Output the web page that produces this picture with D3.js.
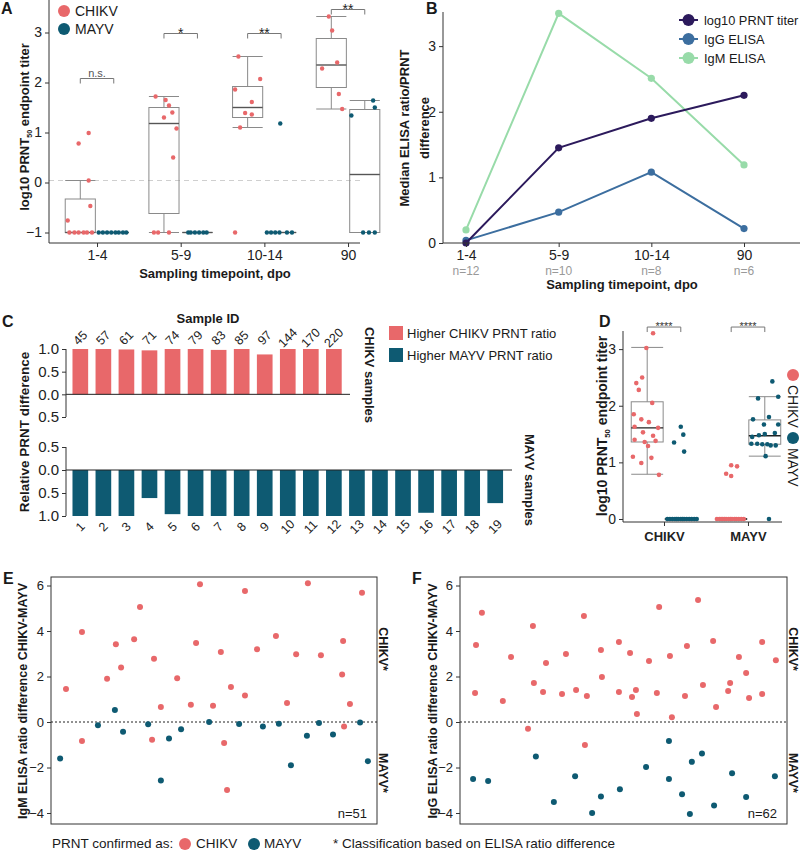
<!DOCTYPE html>
<html>
<head>
<meta charset="utf-8">
<script src="https://cdn.jsdelivr.net/npm/d3@7"></script>
<style>
body { margin: 0; background: white; }
svg { font-family: "Liberation Sans", Arial, Helvetica, sans-serif; }
</style>
</head>
<body>
<div id="canvas"></div>
<script>
"use strict"

/* ---------- data ---------- */

let timepoints = ["1-4", "5-9", "10-14", "90"];
let groupCounts = ["n=12", "n=10", "n=8", "n=6"];

// panel A boxes (log10 PRNT50 titer), one per timepoint
let aChikvBoxes = [
    { lo: -1, q1: -1, med: -1, q3: -0.33, hi: 0.04 },
    { lo: -1, q1: -0.62, med: 1.18, q3: 1.5, hi: 1.72 },
    { lo: 1.1, q1: 1.3, med: 1.5, q3: 1.92, hi: 2.52 },
    { lo: 1.47, q1: 1.9, med: 2.35, q3: 2.88, hi: 3.32 }
];
let aMayvBoxes = [
    { lo: -1, q1: -1, med: -1, q3: -1, hi: -1 },
    { lo: -1, q1: -1, med: -1, q3: -1, hi: -1 },
    { lo: -1, q1: -1, med: -1, q3: -1, hi: -1 },
    { lo: -1, q1: -1, med: 0.16, q3: 1.46, hi: 1.64 }
];
// [position in timepoint units, value]
let aChikvPoints = [
    [-0.35, -0.76], [-0.22, 0.78], [-0.10, 0.99], [-0.10, 0.04], [-0.08, -0.47],
    [-0.33, -1], [-0.27, -1], [-0.22, -1], [-0.16, -1], [-0.12, -1], [-0.06, -1],
    [0.70, 1.72], [0.82, 1.65], [0.86, 1.54], [0.90, 1.40], [0.80, 1.30], [0.95, 1.08], [0.91, 0.5],
    [0.68, -1], [0.73, -1], [0.86, -1],
    [1.69, 2.52], [1.95, 2.07], [1.65, 1.86], [1.85, 1.61], [1.77, 1.39], [1.85, 1.36], [1.71, 1.1], [1.65, -1],
    [2.77, 3.32], [2.81, 3.04], [2.87, 2.4], [2.69, 2.28], [2.89, 1.77], [2.93, 1.47]
];
let aMayvPoints = [
    [0.02, -1], [0.07, -1], [0.12, -1], [0.17, -1], [0.22, -1], [0.26, -1], [0.31, -1], [0.35, -1],
    [1.09, -1], [1.12, -1], [1.17, -1], [1.22, -1], [1.27, -1], [1.31, -1],
    [2.03, -1], [2.08, -1], [2.13, -1], [2.18, -1], [2.27, -1], [2.33, -1], [2.19, 1.18],
    [3.30, 1.64], [3.32, 1.5], [3.04, 1.34], [3.18, -1], [3.25, -1], [3.32, -1]
];
let aSignif = ["n.s.", "*", "**", "**"];
let aSignifLevel = [2.08, 2.98, 2.98, 3.46];
let aCutoff = 0.04;

// panel B medians
let bPrnt = [0, 1.45, 1.9, 2.25];
let bIgg = [0.04, 0.47, 1.08, 0.22];
let bIgm = [0.2, 3.5, 2.51, 1.19];
let bSeriesNames = ["log10 PRNT titer", "IgG ELISA", "IgM ELISA"];

// panel C relative PRNT difference
let cChikvIds = ["45", "57", "61", "71", "74", "79", "83", "85", "97", "144", "170", "220"];
let cChikvValues = [1, 1, 0.99, 0.97, 1, 1, 0.98, 1, 0.88, 1, 1, 1];
let cMayvIds = ["1", "2", "3", "4", "5", "6", "7", "8", "9", "10", "11", "12", "13", "14", "15", "16", "17", "18", "19"];
let cMayvValues = [1, 1, 1, 0.61, 0.96, 1, 1, 1, 1, 1, 1, 1, 1, 1, 1, 0.93, 1, 1, 0.72];

// panel D
let dGroups = ["CHIKV", "MAYV"];
let dBoxes = [
    { pos: -0.2, virus: "CHIKV", lo: 0.79, q1: 1.36, med: 1.61, q3: 2.07, hi: 3.03 },
    { pos: 0.2, virus: "MAYV", lo: 0, q1: 0, med: 0, q3: 0, hi: 0 },
    { pos: 0.8, virus: "CHIKV", lo: 0, q1: 0, med: 0, q3: 0, hi: 0 },
    { pos: 1.2, virus: "MAYV", lo: 1.11, q1: 1.32, med: 1.47, q3: 1.75, hi: 2.16 }
];
let dChikvPoints = [
    [-0.13, 3.28], [-0.21, 3.02], [-0.26, 2.5], [-0.33, 2.4], [-0.30, 2.28], [-0.14, 2.05], [-0.36, 1.85],
    [-0.27, 1.76], [-0.18, 1.71], [-0.35, 1.63], [-0.07, 1.61], [-0.25, 1.53], [-0.13, 1.47], [-0.35, 1.4],
    [-0.23, 1.36], [-0.10, 1.38], [-0.19, 1.29], [-0.37, 1.1], [-0.15, 1.08], [-0.27, 0.99], [-0.06, 0.78],
    [0.74, 0.8], [0.80, 0.95], [0.87, 0.93], [0.80, 0.76],
    [0.63, 0], [0.66, 0], [0.68, 0], [0.70, 0], [0.72, 0], [0.74, 0], [0.77, 0], [0.79, 0],
    [0.81, 0], [0.84, 0], [0.86, 0], [0.89, 0], [0.92, 0], [0.95, 0]
];
let dMayvPoints = [
    [0.20, 1.63], [0.23, 1.49], [0.12, 1.35], [0.24, 1.19],
    [0.04, 0], [0.07, 0], [0.10, 0], [0.13, 0], [0.15, 0], [0.17, 0], [0.20, 0], [0.22, 0],
    [0.24, 0], [0.27, 0], [0.30, 0], [0.33, 0], [0.36, 0], [0.39, 0],
    [1.29, 2.43], [1.12, 2.13], [1.36, 2.16], [1.06, 1.76], [1.25, 1.8], [1.19, 1.67], [1.36, 1.67],
    [1.05, 1.45], [1.13, 1.48], [1.20, 1.5], [1.32, 1.52], [1.04, 1.33], [1.11, 1.33], [1.17, 1.32],
    [1.23, 1.32], [1.27, 1.3], [1.33, 1.3], [1.21, 1.11], [1.25, 0]
];
let dSignifLevel = [3.39, 3.39];

// panel E: IgM ELISA ratio difference, [position 0-100, value]
let eChikvPoints = [
    [4.6, 1.45], [9.5, 3.96], [9.5, -0.83], [17.2, 1.9], [19.9, 3.42], [21.5, 2.4], [25.5, 3.64], [27.3, 5.05],
    [31.6, 2.78], [33.7, 0.66], [31.0, -0.78], [38.7, 1.92], [42.9, 0.76], [44.5, 3.47], [45.7, 6.05],
    [49.7, 0.71], [52.1, 3.08], [55.2, 1.54], [53.1, -0.92], [54.0, -2.99], [59.5, 1.16], [59.5, 5.76],
    [63.2, 3.2], [69.0, 3.78], [72.4, 0.84], [75.2, 2.98], [78.8, 6.1], [82.8, 2.93], [89.6, 3.56],
    [89.3, 2.09], [91.7, 0.79], [89.9, -0.2], [95.4, 5.68]
];
let eMayvPoints = [
    [2.8, -1.6], [14.4, -0.14], [19.6, 0.53], [22.1, -0.43], [29.8, -0.1], [33.7, -2.57], [36.2, -0.73],
    [39.9, -0.32], [48.5, 0.0], [57.7, -0.09], [65.0, -0.2], [69.9, -0.08], [73.6, -1.9], [78.5, -0.6],
    [82.2, -0.04], [86.5, -0.55], [94.8, -0.02], [97.2, -1.72]
];

// panel F: IgG ELISA ratio difference
let fChikvPoints = [
    [4.6, 1.27], [4.9, 3.38], [6.7, 4.8], [13.1, 0.92], [15.6, 2.86], [20.8, -0.3], [22.3, 4.22], [22.6, 1.71],
    [25.4, 1.32], [26.3, 2.59], [31.2, 1.23], [32.4, 2.99], [35.5, 1.41], [37.9, 4.66], [38.2, -1.01],
    [38.8, 1.14], [43.1, 3.16], [43.4, 1.98], [48.6, 1.32], [48.6, 3.52], [52.0, 3.03], [52.6, 1.1],
    [53.8, 1.41], [54.1, 0.35], [57.8, 2.68], [60.2, 1.27], [60.9, 5.06], [64.2, 2.9], [64.8, 0.21],
    [68.8, 1.14], [69.4, 3.34], [72.8, 5.36], [74.3, 1.63], [77.4, 3.56], [78.3, 0.66], [82.0, 1.36],
    [82.6, 1.71], [85.3, 2.86], [87.5, 2.15], [88.4, 1.05], [92.4, 3.52], [92.4, 1.23], [96.6, 2.71]
];
let fMayvPoints = [
    [4.0, -2.5], [8.6, -2.59], [23.2, -1.52], [28.7, -3.52], [35.2, -2.38], [40.4, -4.0], [43.1, -3.28],
    [48.9, -2.96], [56.9, -1.98], [63.9, -0.83], [63.9, -2.5], [67.9, -3.18], [70.3, -4.04], [70.9, -1.75],
    [74.0, -1.38], [77.7, -3.67], [83.2, -2.25], [87.5, -3.3], [96.3, -2.38]
];

/* ---------- drawing ---------- */

let chikvColor = "#e8686a";
let mayvColor = "#0e5a72";
let boxColor = "#8a8a8a";
let axisColor = "#333";

let drawing = d3.select("#canvas")
    .append("svg")
    .attr("width", 800)
    .attr("height", 850);

drawing.append("rect")
    .attr("width", 800)
    .attr("height", 850)
    .attr("fill", "white");

function styleAxis(g, size) {
    g.attr("font-family", null).attr("font-size", size);
    g.select(".domain").remove();
    g.selectAll(".tick line").attr("stroke", axisColor);
    g.selectAll(".tick text").attr("fill", "#222");
}

function line(g, x1, y1, x2, y2, color, width) {
    return g.append("line")
        .attr("x1", x1).attr("y1", y1)
        .attr("x2", x2).attr("y2", y2)
        .attr("stroke", color || axisColor)
        .attr("stroke-width", width || 1);
}

function label(g, x, y, txt, size, weight, anchor) {
    return g.append("text")
        .attr("x", x).attr("y", y)
        .attr("font-size", size)
        .attr("font-weight", weight || "normal")
        .attr("text-anchor", anchor || "start")
        .attr("fill", "#1a1a1a")
        .text(txt);
}

function drawBox(g, xs, ys, cx, hw, b, medColor) {
    let x0 = xs(cx - hw), x1 = xs(cx + hw), xm = xs(cx);
    line(g, xm, ys(b.hi), xm, ys(b.q3), boxColor);
    line(g, xm, ys(b.q1), xm, ys(b.lo), boxColor);
    line(g, x0, ys(b.hi), x1, ys(b.hi), boxColor);
    line(g, x0, ys(b.lo), x1, ys(b.lo), boxColor);
    g.append("rect")
        .attr("x", x0).attr("y", ys(b.q3))
        .attr("width", x1 - x0)
        .attr("height", ys(b.q1) - ys(b.q3))
        .attr("fill", "none")
        .attr("stroke", boxColor);
    line(g, x0, ys(b.med), x1, ys(b.med), medColor, 1.4);
}

function drawDots(g, xs, ys, pts, color, r) {
    g.selectAll(null)
        .data(pts)
        .join("circle")
        .attr("cx", d => xs(d[0]))
        .attr("cy", d => ys(d[1]))
        .attr("r", r)
        .attr("fill", color);
}

function titerLabel(g, x, y, size) {
    let t = g.append("text")
        .attr("transform", "translate(" + x + "," + y + ") rotate(-90)")
        .attr("text-anchor", "middle")
        .attr("font-size", size)
        .attr("font-weight", "bold")
        .attr("fill", "#1a1a1a");
    t.append("tspan").text("log10 PRNT");
    t.append("tspan").text("50").attr("font-size", size * 0.55).attr("dy", 3);
    t.append("tspan").text(" endpoint titer").attr("dy", -3);
}

// asterisks sit high in the em box, so they get a lower baseline than "n.s."
function bracket(g, x0, x1, y, txt, size, color) {
    g.append("path")
        .attr("d", "M" + x0 + "," + (y + 5) + "V" + y + "H" + x1 + "V" + (y + 5))
        .attr("fill", "none")
        .attr("stroke", "#777");
    let base = txt[0] === "*" ? y + size * 0.3 : y - 2;
    label(g, (x0 + x1) / 2, base, txt, size, "normal", "middle").attr("fill", color);
}

/* Panel A */
let panelA = drawing.append("g");
let aX = d3.scaleLinear().domain([-0.574, 3.143]).range([49, 360]);
let aY = d3.scaleLinear().domain([-1.21, 3.65]).range([243, 0]);

line(panelA, 49, aY(aCutoff), 360, aY(aCutoff), "#cfcfcf").attr("stroke-dasharray", "5,4");

aChikvBoxes.forEach((b, i) => drawBox(panelA, aX, aY, i - 0.2, 0.18, b, "#555"));
aMayvBoxes.forEach((b, i) => drawBox(panelA, aX, aY, i + 0.2, 0.18, b, "#555"));
drawDots(panelA, aX, aY, aChikvPoints, chikvColor, 2.2);
drawDots(panelA, aX, aY, aMayvPoints, mayvColor, 2.2);

aSignif.forEach((s, i) => bracket(panelA, aX(i - 0.2), aX(i + 0.2), aY(aSignifLevel[i]), s,
    s === "n.s." ? 11 : 14, s === "n.s." ? "#555" : "#222"));

panelA.append("g")
    .attr("transform", "translate(49,0)")
    .call(d3.axisLeft(aY).tickValues([-1, 0, 1, 2, 3]).tickFormat(d3.format("d")).tickSize(4))
    .call(g => styleAxis(g, 14));
panelA.append("g")
    .attr("transform", "translate(0,243)")
    .call(d3.axisBottom(aX).tickValues([0, 1, 2, 3]).tickFormat(i => timepoints[i]).tickSize(4))
    .call(g => styleAxis(g, 14));
line(panelA, 49, 0, 49, 243);
line(panelA, 49, 243, 360, 243);

titerLabel(panelA, 29, 127, 13);
label(panelA, 215, 278, "Sampling timepoint, dpo", 13, "bold", "middle");

panelA.append("circle").attr("cx", 64).attr("cy", 11).attr("r", 6).attr("fill", chikvColor);
panelA.append("circle").attr("cx", 64).attr("cy", 29).attr("r", 6).attr("fill", mayvColor);
label(panelA, 75, 16, "CHIKV", 14);
label(panelA, 75, 34, "MAYV", 14);
label(panelA, 1, 14, "A", 16, "bold");

/* Panel B */
let panelB = drawing.append("g");
let bX = d3.scalePoint().domain(timepoints).range([466, 744]);
let bY = d3.scaleLinear().domain([0, 3.52]).range([243, 12]);
let bColors = ["#2c1a5c", "#3c6e9f", "#98dba9"];
let bSeries = [bPrnt, bIgg, bIgm];

[2, 1, 0].forEach(k => {
    let vals = bSeries[k];
    panelB.append("path")
        .datum(vals)
        .attr("d", d3.line().x((d, i) => bX(timepoints[i])).y(d => bY(d)))
        .attr("fill", "none")
        .attr("stroke", bColors[k])
        .attr("stroke-width", 2);
    panelB.selectAll(null)
        .data(vals)
        .join("circle")
        .attr("cx", (d, i) => bX(timepoints[i]))
        .attr("cy", d => bY(d))
        .attr("r", 3.6)
        .attr("fill", bColors[k]);
});

panelB.append("g")
    .attr("transform", "translate(443,0)")
    .call(d3.axisLeft(bY).tickValues([0, 1, 2, 3]).tickFormat(d3.format("d")).tickSize(4))
    .call(g => styleAxis(g, 14));
panelB.append("g")
    .attr("transform", "translate(0,243)")
    .call(d3.axisBottom(bX).tickSize(4))
    .call(g => styleAxis(g, 14));
line(panelB, 443, 12, 443, 243);
line(panelB, 443, 243, 800, 243);

panelB.selectAll(null)
    .data(groupCounts)
    .join("text")
    .attr("x", (d, i) => bX(timepoints[i]))
    .attr("y", 275)
    .attr("text-anchor", "middle")
    .attr("font-size", 12)
    .attr("fill", "#999")
    .text(d => d);
label(panelB, 622, 289, "Sampling timepoint, dpo", 13, "bold", "middle");

let bYLabel = panelB.append("text")
    .attr("transform", "translate(409,128) rotate(-90)")
    .attr("text-anchor", "middle")
    .attr("font-size", 13)
    .attr("font-weight", "bold")
    .attr("fill", "#1a1a1a");
bYLabel.append("tspan").attr("x", 0).attr("dy", 0).text("Median ELISA ratio/PRNT");
bYLabel.append("tspan").attr("x", 0).attr("dy", 20).text("difference");

bSeriesNames.forEach((name, k) => {
    let y = 20 + k * 19;
    line(panelB, 679, y, 698, y, bColors[k], 2);
    panelB.append("circle").attr("cx", 688.5).attr("cy", y).attr("r", 6).attr("fill", bColors[k]);
    label(panelB, 704, y + 5, name, 12.8);
});
label(panelB, 426, 14, "B", 16, "bold");

/* Panel C */
let panelC = drawing.append("g");
let cXTop = d3.scaleBand().domain(cChikvIds).range([68.8, 68.8 + 12 * 23.05]).paddingInner(0.32).paddingOuter(0.16);
let cXBottom = d3.scaleBand().domain(cMayvIds).range([68.8, 68.8 + 19 * 23.05]).paddingInner(0.32).paddingOuter(0.16);
let cYTop = d3.scaleLinear().domain([-0.5, 1]).range([417, 349]);
let cYBottom = d3.scaleLinear().domain([-0.5, 1]).range([447, 516]);

panelC.selectAll(null)
    .data(cChikvValues)
    .join("rect")
    .attr("x", (d, i) => cXTop(cChikvIds[i]))
    .attr("width", cXTop.bandwidth())
    .attr("y", d => cYTop(d))
    .attr("height", d => cYTop(0) - cYTop(d))
    .attr("fill", chikvColor);
panelC.selectAll(null)
    .data(cMayvValues)
    .join("rect")
    .attr("x", (d, i) => cXBottom(cMayvIds[i]))
    .attr("width", cXBottom.bandwidth())
    .attr("y", cYBottom(0))
    .attr("height", d => cYBottom(d) - cYBottom(0))
    .attr("fill", mayvColor);

line(panelC, 66, cYTop(0), 350, cYTop(0), "#222");
line(panelC, 66, cYBottom(0), 512, cYBottom(0), "#222");

panelC.append("g")
    .attr("transform", "translate(66,0)")
    .call(d3.axisLeft(cYTop).tickValues([1, 0.5, 0, -0.5]).tickFormat(d => Math.abs(d).toFixed(1)).tickSize(4))
    .call(g => styleAxis(g, 15));
panelC.append("g")
    .attr("transform", "translate(66,0)")
    .call(d3.axisLeft(cYBottom).tickValues([-0.5, 0, 0.5, 1]).tickFormat(d => Math.abs(d).toFixed(1)).tickSize(4))
    .call(g => styleAxis(g, 15));
line(panelC, 66, 349, 66, 417);
line(panelC, 66, 447, 66, 516);

panelC.selectAll(null)
    .data(cChikvIds)
    .join("text")
    .attr("transform", d => "translate(" + (cXTop(d) + cXTop.bandwidth() / 2) + ",338) rotate(-45)")
    .attr("text-anchor", "middle")
    .attr("dominant-baseline", "central")
    .attr("font-size", 12.5)
    .attr("fill", "#222")
    .text(d => d);
panelC.selectAll(null)
    .data(cMayvIds)
    .join("text")
    .attr("transform", d => "translate(" + (cXBottom(d) + cXBottom.bandwidth() / 2) + ",527) rotate(-45)")
    .attr("text-anchor", "middle")
    .attr("dominant-baseline", "central")
    .attr("font-size", 12.5)
    .attr("fill", "#222")
    .text(d => d);

label(panelC, 208, 323, "Sample ID", 13, "bold", "middle");
panelC.append("text")
    .attr("transform", "translate(29,432) rotate(-90)")
    .attr("text-anchor", "middle")
    .attr("font-size", 13.5)
    .attr("font-weight", "bold")
    .attr("fill", "#1a1a1a")
    .text("Relative PRNT difference");
panelC.append("text")
    .attr("transform", "translate(365,375) rotate(90)")
    .attr("text-anchor", "middle")
    .attr("font-size", 13)
    .attr("font-weight", "bold")
    .attr("fill", "#1a1a1a")
    .text("CHIKV samples");
panelC.append("text")
    .attr("transform", "translate(525,480) rotate(90)")
    .attr("text-anchor", "middle")
    .attr("font-size", 13)
    .attr("font-weight", "bold")
    .attr("fill", "#1a1a1a")
    .text("MAYV samples");

panelC.append("rect").attr("x", 389).attr("y", 326).attr("width", 14).attr("height", 14).attr("fill", chikvColor);
panelC.append("rect").attr("x", 389).attr("y", 348).attr("width", 14).attr("height", 14).attr("fill", mayvColor);
label(panelC, 407, 338, "Higher CHIKV PRNT ratio", 13);
label(panelC, 407, 360, "Higher MAYV PRNT ratio", 13);
label(panelC, 2, 327, "C", 16, "bold");

/* Panel D */
let panelD = drawing.append("g");
let dX = d3.scaleLinear().domain([-0.488, 1.405]).range([623, 782]);
let dY = d3.scaleLinear().domain([-0.053, 3.32]).range([522, 331]);

dBoxes.forEach(b => drawBox(panelD, dX, dY, b.pos, 0.19, b, "#222"));
drawDots(panelD, dX, dY, dChikvPoints, chikvColor, 2.3);
drawDots(panelD, dX, dY, dMayvPoints, mayvColor, 2.3);
dSignifLevel.forEach((lv, i) => bracket(panelD, dX(i - 0.2), dX(i + 0.2), dY(lv), "****", 11, "#333"));

panelD.append("g")
    .attr("transform", "translate(623,0)")
    .call(d3.axisLeft(dY).tickValues([0, 1, 2, 3]).tickFormat(d3.format("d")).tickSize(4))
    .call(g => styleAxis(g, 14));
panelD.append("g")
    .attr("transform", "translate(0,522)")
    .call(d3.axisBottom(dX).tickValues([0, 1]).tickFormat(i => dGroups[i]).tickSize(4).tickPadding(6))
    .call(g => styleAxis(g, 13))
    .call(g => g.selectAll(".tick text").attr("font-weight", "bold"));
line(panelD, 623, 331, 623, 522);
line(panelD, 623, 522, 782, 522);
titerLabel(panelD, 607, 426, 14);

panelD.append("circle").attr("cx", 793).attr("cy", 375).attr("r", 6).attr("fill", chikvColor);
panelD.append("circle").attr("cx", 793).attr("cy", 438).attr("r", 6).attr("fill", mayvColor);
panelD.append("text").attr("transform", "translate(788,385) rotate(90)")
    .attr("font-size", 14).attr("fill", "#1a1a1a").text("CHIKV");
panelD.append("text").attr("transform", "translate(788,448) rotate(90)")
    .attr("font-size", 14).attr("fill", "#1a1a1a").text("MAYV");
label(panelD, 599, 327, "D", 16, "bold");

/* Panels E and F */
function scatterPanel(left, right, chikvPts, mayvPts, yTitle, countText, letter, titleX) {
    let g = drawing.append("g");
    let top = 577, bottom = 824;
    let xs = d3.scaleLinear().domain([0, 100]).range([left, right]);
    let ys = d3.scaleLinear().domain([-4, 6]).range([813, 585.5]);

    g.append("rect")
        .attr("x", left).attr("y", top)
        .attr("width", right - left).attr("height", bottom - top)
        .attr("fill", "none").attr("stroke", axisColor);
    line(g, left, ys(0), right, ys(0), "#222").attr("stroke-dasharray", "2,2");

    drawDots(g, xs, ys, chikvPts, chikvColor, 3);
    drawDots(g, xs, ys, mayvPts, mayvColor, 3);

    g.append("g")
        .attr("transform", "translate(" + left + ",0)")
        .call(d3.axisLeft(ys).tickValues([-4, -2, 0, 2, 4, 6]).tickFormat(d3.format("d")).tickSize(4))
        .call(a => styleAxis(a, 13));

    g.append("text")
        .attr("transform", "translate(" + titleX + ",701) rotate(-90)")
        .attr("text-anchor", "middle")
        .attr("font-size", 12.5)
        .attr("font-weight", "bold")
        .attr("fill", "#1a1a1a")
        .text(yTitle);
    g.append("text")
        .attr("transform", "translate(" + (right + 2) + ",649) rotate(90)")
        .attr("text-anchor", "middle")
        .attr("font-size", 12.5)
        .attr("font-weight", "bold")
        .attr("fill", "#1a1a1a")
        .text("CHIKV*");
    g.append("text")
        .attr("transform", "translate(" + (right + 2) + ",773) rotate(90)")
        .attr("text-anchor", "middle")
        .attr("font-size", 12.5)
        .attr("font-weight", "bold")
        .attr("fill", "#1a1a1a")
        .text("MAYV*");
    label(g, right - 10, 818, countText, 13, "normal", "end");
    label(g, left - 48, 584, letter, 16, "bold");
}

scatterPanel(51, 377, eChikvPoints, eMayvPoints, "IgM ELISA ratio difference CHIKV-MAYV", "n=51", "E", 27);
scatterPanel(460, 787, fChikvPoints, fMayvPoints, "IgG ELISA ratio difference CHIKV-MAYV", "n=62", "F", 437);

/* bottom legend */
let legend = drawing.append("g");
label(legend, 52, 848, "PRNT confirmed as:", 13.5);
legend.append("circle").attr("cx", 185).attr("cy", 844).attr("r", 6).attr("fill", chikvColor);
legend.append("circle").attr("cx", 254).attr("cy", 844).attr("r", 6).attr("fill", mayvColor);
label(legend, 196, 848, "CHIKV", 13.5);
label(legend, 264, 848, "MAYV", 13.5);
label(legend, 333, 848, "* Classification based on ELISA ratio difference", 13.5);
</script>
</body>
</html>
